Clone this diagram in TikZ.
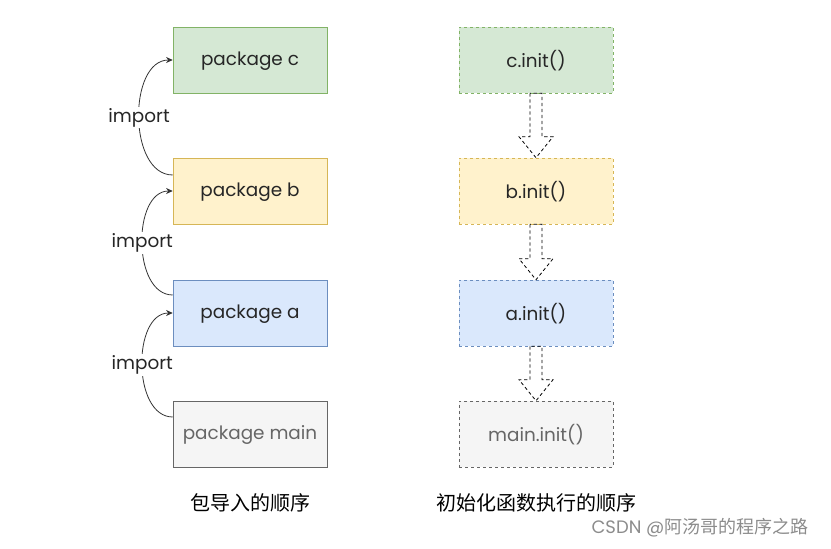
\documentclass[tikz,border=0pt]{standalone}
\usepackage{fontspec}
\setmainfont{Poppins}
\newfontfamily\cjk{Noto Sans CJK SC}
\usetikzlibrary{arrows.meta,positioning,calc}

\definecolor{cfill}{HTML}{D5E8D4}
\definecolor{cline}{HTML}{82B366}
\definecolor{bfill}{HTML}{FFF2CC}
\definecolor{bline}{HTML}{D6B656}
\definecolor{afill}{HTML}{DAE8FC}
\definecolor{aline}{HTML}{6C8EBF}
\definecolor{mfill}{HTML}{F5F5F5}
\definecolor{mline}{HTML}{666666}

\begin{document}
\begin{tikzpicture}[x=0.75pt, y=-0.75pt,
  every node/.style = {font=\fontsize{13.8}{16}\selectfont, text=black!85},
  pkg/.style = {draw, minimum width=115.5pt, minimum height=49.5pt, inner sep=0pt, text depth=0.4ex},
  initbox/.style = {pkg, dash pattern=on 2.5pt off 2pt},
  imp/.style = {-{Stealth[length=5pt, width=4.5pt]}, black!80, semithick},
  flow/.style = {black, dash pattern=on 2.5pt off 2pt, semithick},
  caption/.style = {font=\cjk\fontsize{15}{18}\selectfont, text=black}]
  \useasboundingbox (0,0) rectangle (831,549);

  % import order
  \node[pkg, fill=cfill, draw=cline] (pc) at (250,60) {package c};
  \node[pkg, fill=bfill, draw=bline] (pb) at (250,191) {package b};
  \node[pkg, fill=afill, draw=aline] (pa) at (250,313) {package a};
  \node[pkg, fill=mfill, draw=mline, text=black!60] (pm) at (250,434) {package main};

  \draw[imp] ($(pb.west)+(0,-16)$) to[out=180, in=180] node[fill=white, inner sep=1pt] {import} (pc.west);
  \draw[imp] ($(pa.west)+(0,-18)$) to[out=180, in=180] node[fill=white, inner sep=1pt] {import} (pb.west);
  \draw[imp] ($(pm.west)+(0,-17)$) to[out=180, in=180] node[fill=white, inner sep=1pt] {import} (pa.west);

  % init order
  \node[initbox, fill=cfill, draw=cline] (ic) at (536,60) {c.init()};
  \node[initbox, fill=bfill, draw=bline] (ib) at (536,191) {b.init()};
  \node[initbox, fill=afill, draw=aline] (ia) at (536,313) {a.init()};
  \node[initbox, fill=mfill, draw=mline, text=black!60] (im) at (536,434) {main.init()};

  \foreach \from/\to in {ic/ib, ib/ia, ia/im}
    \draw[flow] ($(\from.south)+(-6,0)$) -- ($(\to.north)+(-6,-21)$) -- ($(\to.north)+(-17,-21)$)
      -- (\to.north) -- ($(\to.north)+(17,-21)$) -- ($(\to.north)+(6,-21)$)
      -- ($(\from.south)+(6,0)$) -- cycle;

  \node[caption] (capl) at (250,503) {包导入的顺序};
  \node[caption] (capr) at (536,503) {初始化函数执行的顺序};
  \node[font=\fontsize{13.5}{15}\selectfont, text=black!45] (mark) at (700,528) {CSDN @{\cjk 阿汤哥的程序之路}};
\end{tikzpicture}
\end{document}
